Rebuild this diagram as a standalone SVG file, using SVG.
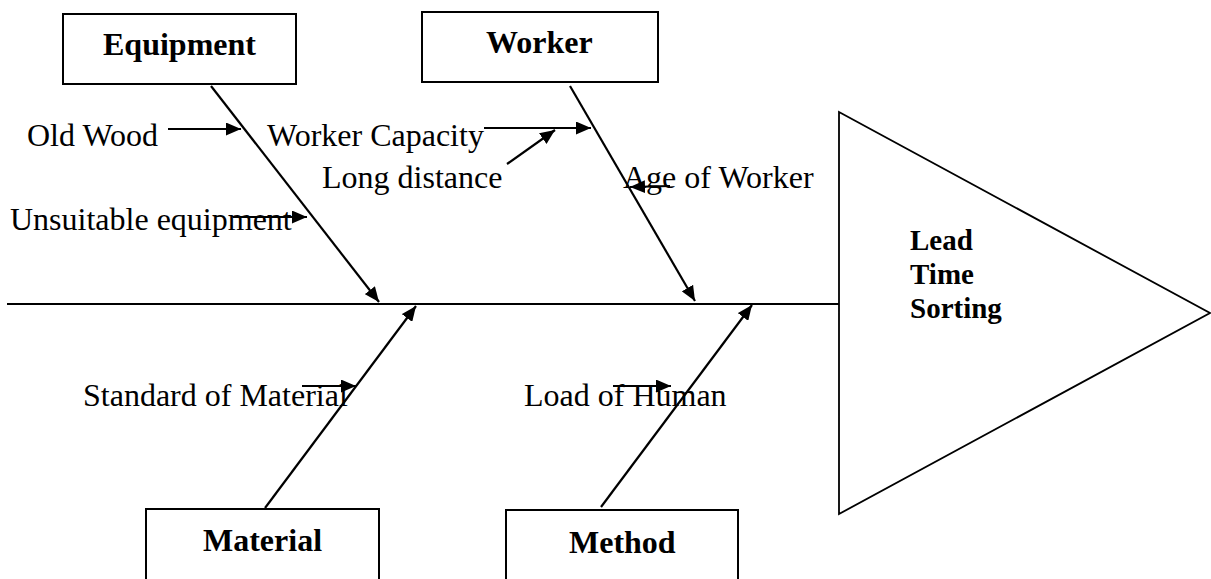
<svg xmlns="http://www.w3.org/2000/svg" width="1211" height="579" viewBox="0 0 1211 579">
<defs>
<marker id="ah" markerUnits="userSpaceOnUse" markerWidth="16" markerHeight="13" refX="15" refY="6.5" orient="auto">
<path d="M0,0 L15,6.5 L0,13 z" fill="#000"/>
</marker>
<style>
.box{fill:#fff;stroke:#000;stroke-width:2}
.lbl{font-family:"Liberation Serif","Times New Roman",serif;font-weight:bold;font-size:32px;fill:#000}
.head{font-size:29px}
.t{font-family:"Liberation Serif","Times New Roman",serif;font-size:32px;fill:#000}
.bone{stroke:#000;stroke-width:2.2;fill:none}
.sub{stroke:#000;stroke-width:2.2;fill:none}
</style>
</defs>
<rect width="1211" height="579" fill="#fff"/>
<g id="head">
<polygon points="839,112 1210,313 839,514" fill="#fff" stroke="#000" stroke-width="1.8"/>
<text class="lbl head" x="910" y="250">Lead</text>
<text class="lbl head" x="910" y="284">Time</text>
<text class="lbl head" x="910" y="318">Sorting</text>
</g>
<g id="equipment">
<rect class="box" x="63" y="14" width="233" height="70"/>
<text class="lbl" x="103" y="55">Equipment</text>
</g>
<g id="worker">
<rect class="box" x="422" y="12" width="236" height="70"/>
<text class="lbl" x="486" y="53">Worker</text>
</g>
<g id="material">
<rect class="box" x="146" y="509" width="233" height="80"/>
<text class="lbl" x="203" y="551">Material</text>
</g>
<g id="method">
<rect class="box" x="506" y="510" width="232" height="80"/>
<text class="lbl" x="569" y="553">Method</text>
</g>
<g id="labels">
<text class="t" x="27" y="146">Old Wood</text>
<text class="t" x="267" y="146">Worker Capacity</text>
<text class="t" x="322" y="188">Long distance</text>
<text class="t" x="10" y="230">Unsuitable equipment</text>
<text class="t" x="623" y="188">Age of Worker</text>
<text class="t" x="83" y="406">Standard of Material</text>
<text class="t" x="524" y="406">Load of Human</text>
</g>
<g id="connectors">
<line class="bone" x1="7" y1="304" x2="839" y2="304"/>
<line class="bone" x1="211" y1="86" x2="379" y2="302" marker-end="url(#ah)"/>
<line class="bone" x1="570" y1="86" x2="695" y2="301" marker-end="url(#ah)"/>
<line class="bone" x1="265" y1="508" x2="416" y2="306" marker-end="url(#ah)"/>
<line class="bone" x1="601" y1="507" x2="752" y2="305" marker-end="url(#ah)"/>
<line class="sub" x1="168" y1="129" x2="241" y2="129" marker-end="url(#ah)"/>
<line class="sub" x1="484" y1="128" x2="591" y2="128" marker-end="url(#ah)"/>
<line class="sub" x1="507" y1="164" x2="555" y2="130" marker-end="url(#ah)"/>
<line class="sub" x1="233" y1="217" x2="307" y2="217" marker-end="url(#ah)"/>
<line class="sub" x1="670" y1="186" x2="630" y2="187" marker-end="url(#ah)"/>
<line class="sub" x1="302" y1="386" x2="356" y2="386" marker-end="url(#ah)"/>
<line class="sub" x1="613" y1="386" x2="671" y2="386" marker-end="url(#ah)"/>
</g>
</svg>
